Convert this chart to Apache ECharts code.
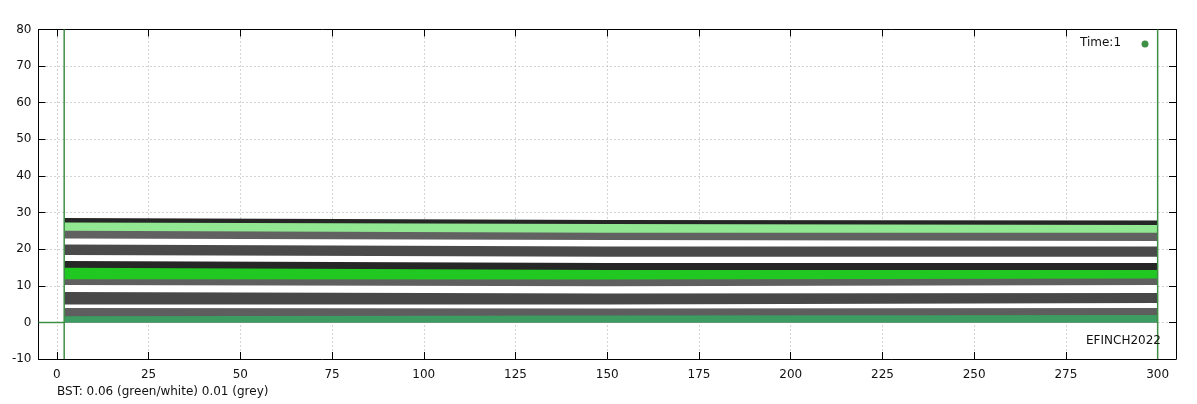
<!DOCTYPE html>
<html>
<head>
<meta charset="utf-8">
<script src="https://cdn.jsdelivr.net/npm/echarts@6/dist/echarts.min.js"></script>
<style>
html, body { margin: 0; padding: 0; background: #fff; }
#chart { width: 1197px; height: 404px; }
</style>
</head>
<body>
<div id="chart"></div>
<script>
// sample positions along the bed (x) where band edges were read
var xSamples = [2, 150, 300];

// top edge of every particle band, bottom to top, read at xSamples
var bandTops = [
	[1.7, 1.9, 2.0],    // sea green
	[3.9, 3.8, 3.9],    // grey
	[4.9, 4.9, 5.3],    // white
	[8.3, 7.9, 8.0],    // dark grey
	[10.2, 9.9, 10.2],  // white
	[11.8, 11.7, 12.0], // grey
	[14.9, 14.3, 14.3], // green
	[16.8, 16.2, 16.2], // black
	[18.4, 17.9, 17.9], // white
	[21.3, 20.7, 20.7], // dark grey
	[22.9, 22.5, 22.2], // white
	[25.0, 24.5, 24.5], // grey
	[27.3, 26.9, 26.6], // light green
	[28.5, 28.0, 27.8]  // black
];
var bandColors = ['#3c9c62', '#5e5e5e', '#ffffff', '#484848', '#ffffff', '#5f5f5f', '#22c822',
	'#262626', '#ffffff', '#4a4a4a', '#ffffff', '#616161', '#92e892', '#262626'];

// side walls and floor
var wallLeft = [[2, -10], [2, 80]];
var wallRight = [[300, -10], [300, 80]];
var floorLine = [[-5, 0], [2, 0]];

var xTicks = [0, 25, 50, 75, 100, 125, 150, 175, 200, 225, 250, 275, 300];

var fontName = 'DejaVu Sans';
var myChart = echarts.init(document.getElementById('chart'));

// bands are filled down to 0, drawn top band first so lower bands cover them
var series = [];
for (var i = bandTops.length - 1; i >= 0; i--) {
	var pts = [];
	for (var j = 0; j < xSamples.length; j++) {
		pts.push([xSamples[j], bandTops[i][j]]);
	}
	series.push({
		type: 'line',
		data: pts,
		symbol: 'none',
		silent: true,
		lineStyle: { width: 0 },
		areaStyle: { color: bandColors[i], opacity: 1, origin: 0 },
		z: 2
	});
}
function thinLine(d) {
	return {
		type: 'line', data: d, symbol: 'none', silent: true, z: 3,
		lineStyle: { color: '#3f8f45', width: 1.5 }
	};
}
series.push(thinLine(wallLeft));
series.push(thinLine(wallRight));
series.push(thinLine(floorLine));

var gridLine = { show: true, lineStyle: { color: '#a8a8a8', type: [1, 3], width: 1 } };
var axisLine = { show: true, onZero: false, lineStyle: { color: '#000', width: 1 } };

var option = {
	animation: false,
	grid: { left: 38.5, top: 29.5, right: 21, bottom: 45, containLabel: false },
	xAxis: [{
		type: 'value', min: -5, max: 305, position: 'bottom',
		axisLine: axisLine,
		axisTick: { inside: true, length: 7, customValues: xTicks, lineStyle: { color: '#000' } },
		axisLabel: { customValues: xTicks, margin: 10, color: '#111', fontFamily: fontName, fontSize: 12 },
		splitLine: gridLine
	}, {
		type: 'value', min: -5, max: 305, position: 'top',
		axisLine: axisLine,
		axisTick: { inside: true, length: 7, customValues: xTicks, lineStyle: { color: '#000' } },
		axisLabel: { show: false },
		splitLine: { show: false }
	}],
	yAxis: [{
		type: 'value', min: -10, max: 80, interval: 10, position: 'left',
		axisLine: axisLine,
		axisTick: { inside: true, length: 7, lineStyle: { color: '#000' } },
		axisLabel: { margin: 7, color: '#111', fontFamily: fontName, fontSize: 12 },
		splitLine: gridLine
	}, {
		type: 'value', min: -10, max: 80, interval: 10, position: 'right',
		axisLine: axisLine,
		axisTick: { inside: true, length: 7, lineStyle: { color: '#000' } },
		axisLabel: { show: false },
		splitLine: { show: false }
	}],
	graphic: [
		{ type: 'text', z: 100, left: 1080, top: 37, style: { text: 'Time:1', fill: '#111', font: '12px ' + fontName } },
		{ type: 'circle', z: 100, shape: { cx: 1145, cy: 44, r: 3.5 }, style: { fill: '#3f8f45' } },
		{ type: 'text', z: 100, left: 1086, top: 335, style: { text: 'EFINCH2022', fill: '#111', font: '12px ' + fontName } },
		{ type: 'text', z: 100, left: 57, top: 386, style: { text: 'BST: 0.06 (green/white) 0.01 (grey)', fill: '#111', font: '12px ' + fontName } }
	],
	series: series
};
myChart.setOption(option);
</script>
</body>
</html>
